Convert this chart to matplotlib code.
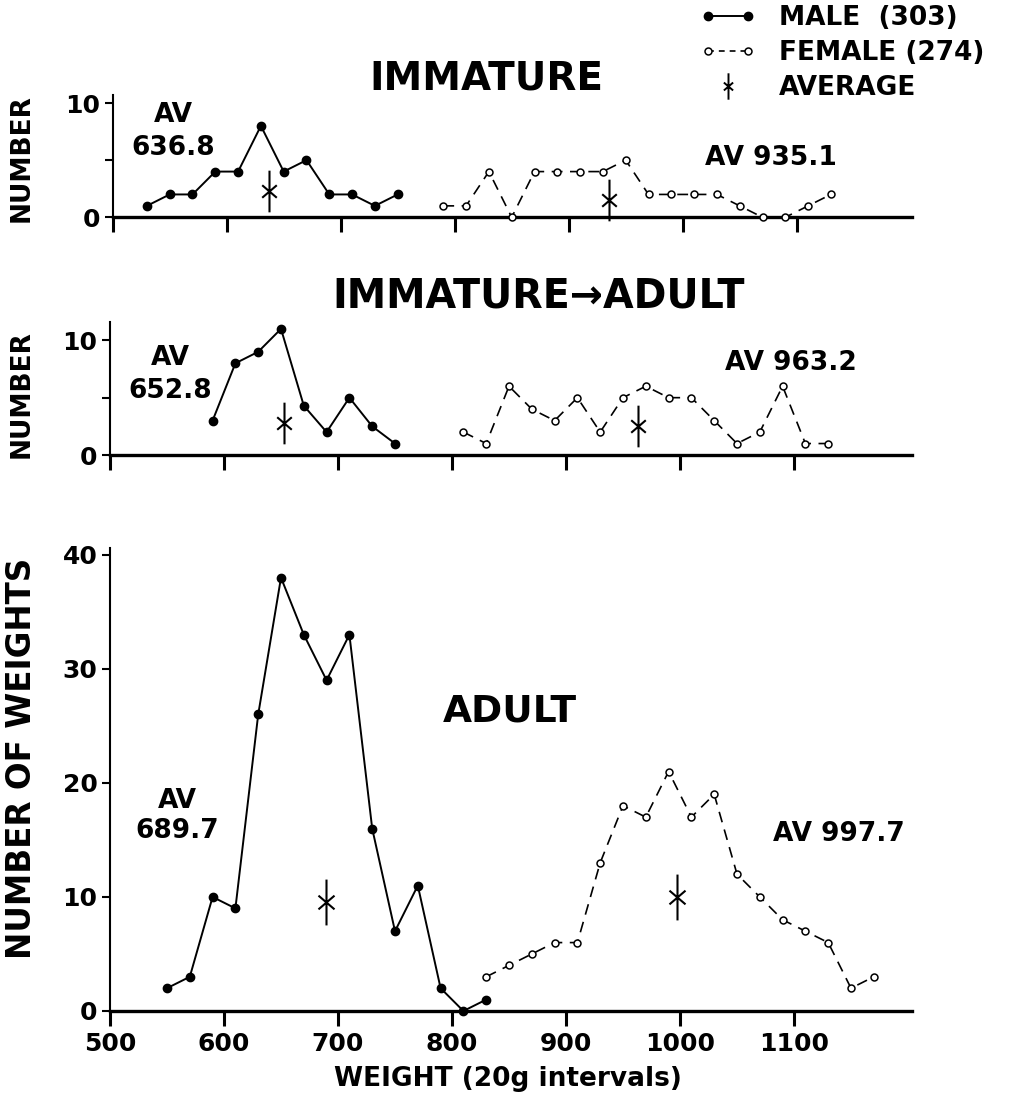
import numpy as np
import matplotlib
matplotlib.use("Agg")
import matplotlib.pyplot as plt
from matplotlib.path import Path
from matplotlib.lines import Line2D
from matplotlib.legend_handler import HandlerLine2D

plt.rcParams['font.family'] = ['DejaVu Sans']
plt.rcParams['font.weight'] = 'bold'

# ---------------- data ----------------
imm_m_w = [530, 550, 570, 590, 610, 630, 650, 670, 690, 710, 730, 750]
imm_m_n = [1, 2, 2, 4, 4, 8, 4, 5, 2, 2, 1, 2]
imm_f_w = [790, 810, 830, 850, 870, 890, 910, 930, 950, 970, 990, 1010,
           1030, 1050, 1070, 1090, 1110, 1130]
imm_f_n = [1, 1, 4, 0, 4, 4, 4, 4, 5, 2, 2, 2, 2, 1, 0, 0, 1, 2]

tr_m_w = [590, 610, 630, 650, 670, 690, 710, 730, 750]
tr_m_n = [3, 8, 9, 11, 4.3, 2, 5, 2.5, 1]
tr_f_w = [810, 830, 850, 870, 890, 910, 930, 950, 970, 990, 1010, 1030,
          1050, 1070, 1090, 1110, 1130]
tr_f_n = [2, 1, 6, 4, 3, 5, 2, 5, 6, 5, 5, 3, 1, 2, 6, 1, 1]

ad_m_w = [550, 570, 590, 610, 630, 650, 670, 690, 710, 730, 750, 770,
          790, 810, 830]
ad_m_n = [2, 3, 10, 9, 26, 38, 33, 29, 33, 16, 7, 11, 2, 0, 1]
ad_f_w = [830, 850, 870, 890, 910, 930, 950, 970, 990, 1010, 1030, 1050,
          1070, 1090, 1110, 1130, 1150, 1170]
ad_f_n = [3, 4, 5, 6, 6, 13, 18, 17, 21, 17, 19, 12, 10, 8, 7, 6, 2, 3]

imm_avg = [636.8, 935.1]
imm_avg_y = [2.3, 1.5]
tr_avg = [652.8, 963.2]
tr_avg_y = [2.75, 2.5]
ad_avg = [689.7, 997.7]
ad_avg_y = [9.6, 10.0]

x_ticks = [500, 600, 700, 800, 900, 1000, 1100]
legend_labels = ['MALE  (303)', 'FEMALE (274)', 'AVERAGE']

# ---------------- styling ----------------
W, H = 1011, 1108
fig = plt.figure(figsize=(W / 100, H / 100), dpi=100)

# average marker: vertical bar with an x through it
avg_path = Path([(0, -1), (0, 1), (-0.35, -0.3), (0.35, 0.3), (-0.35, 0.3), (0.35, -0.3)],
                [Path.MOVETO, Path.LINETO, Path.MOVETO, Path.LINETO, Path.MOVETO, Path.LINETO])

male_kw = dict(color='black', lw=1.4, marker='o', ms=6, mfc='black', mec='black',
               clip_on=False, zorder=4)
female_kw = dict(color='black', lw=1.2, ls=(0, (6.5, 4.5)), marker='o', ms=5, mfc='white',
                 mec='black', mew=1.1, clip_on=False, zorder=4)
avg_kw = dict(ls='none', marker=avg_path, ms=30, mfc='none', mec='black', mew=1.5,
              clip_on=False, zorder=4)

def px_axes(left, right, bottom, top):
    return fig.add_axes([left / W, 1 - bottom / H, (right - left) / W, (bottom - top) / H])

def style(ax, ylim, yticks, ylabels, xlabels):
    ax.set_xlim(500, 500 + (ax.get_position().width * W) / 1.14)
    ax.set_ylim(*ylim)
    for s in ['top', 'right']:
        ax.spines[s].set_visible(False)
    ax.spines['bottom'].set_linewidth(2.4)
    ax.spines['left'].set_linewidth(1.5)
    ax.set_xticks(x_ticks)
    if xlabels:
        ax.set_xticklabels([str(t) for t in x_ticks], fontsize=18, fontweight='bold')
    else:
        ax.set_xticklabels([])
    ax.set_yticks(yticks)
    ax.set_yticklabels(ylabels, fontsize=18, fontweight='bold')
    ax.tick_params(axis='x', direction='out', length=11, width=2.2, pad=4)
    ax.tick_params(axis='y', direction='out', length=6, width=1.5, pad=3)
    ax.patch.set_alpha(0)

# ---- top: immature ----
ax1 = px_axes(112.7, 912, 217.3, 95)
ax1.plot(imm_m_w, imm_m_n, **male_kw)
ax1.plot(imm_f_w, imm_f_n, **female_kw)
ax1.plot(imm_avg, imm_avg_y, **avg_kw)
style(ax1, (0, 10.7), [0, 5, 10], ['0', '', '10'], False)
ax1.text(553, 7.5, 'AV\n636.8', ha='center', va='center', fontsize=19, linespacing=1.35)
ax1.text(1077, 5.2, 'AV 935.1', ha='center', va='center', fontsize=19)

# ---- middle: immature -> adult ----
ax2 = px_axes(110, 912, 455, 322)
ax2.plot(tr_m_w, tr_m_n, **male_kw)
ax2.plot(tr_f_w, tr_f_n, **female_kw)
ax2.plot(tr_avg, tr_avg_y, **avg_kw)
style(ax2, (0, 11.6), [0, 5, 10], ['0', '', '10'], False)
ax2.text(553, 7.0, 'AV\n652.8', ha='center', va='center', fontsize=19, linespacing=1.35)
ax2.text(1097, 8.0, 'AV 963.2', ha='center', va='center', fontsize=19)

# ---- bottom: adult ----
ax3 = px_axes(110, 912, 1011, 548)
ax3.plot(ad_m_w, ad_m_n, **male_kw)
ax3.plot(ad_f_w, ad_f_n, **female_kw)
ad_kw = dict(avg_kw)
ad_kw['ms'] = 33
ax3.plot(ad_avg, ad_avg_y, **ad_kw)
style(ax3, (0, 40.6), [0, 10, 20, 30, 40], ['0', '10', '20', '30', '40'], True)
ax3.text(559, 17.1, 'AV\n689.7', ha='center', va='center', fontsize=19, linespacing=1.2)
ax3.text(1139, 15.5, 'AV 997.7', ha='center', va='center', fontsize=19)
ax3.text(851, 26.3, 'ADULT', ha='center', va='center', fontsize=27)

# ---- titles / axis labels ----
fig.text(486 / W, 1 - 78 / H, 'IMMATURE', ha='center', va='center', fontsize=28)
fig.text(539 / W, 1 - 296 / H, 'IMMATURE\u2192ADULT', ha='center', va='center', fontsize=28.5)
fig.text(22 / W, 1 - 158 / H, 'NUMBER', rotation=90, ha='center', va='center', fontsize=19)
fig.text(22 / W, 1 - 394 / H, 'NUMBER', rotation=90, ha='center', va='center', fontsize=19)
fig.text(22 / W, 1 - 758 / H, 'NUMBER OF WEIGHTS', rotation=90, ha='center', va='center', fontsize=23.5)
fig.text(508 / W, 1 - 1079 / H, 'WEIGHT (20g intervals)', ha='center', va='center', fontsize=19)

# ---- legend ----
h_m = Line2D([], [], color='black', lw=1.4, marker='o', ms=6, mfc='black')
h_f = Line2D([], [], color='black', lw=1.2, ls=(0, (3.5, 3)), marker='o', ms=5,
             mfc='white', mec='black', mew=1.1)
h_a = Line2D([], [], ls='none', marker=avg_path, ms=19, mfc='none', mec='black', mew=1.4)
fig.legend([h_m, h_f, h_a], legend_labels, loc='upper left',
           bbox_to_anchor=(700 / W, 1 - 5 / H), frameon=False, fontsize=19,
           handlelength=2.1, handletextpad=0.9, labelspacing=0.35,
           borderpad=0, borderaxespad=0, numpoints=2,
           handler_map={h_a: HandlerLine2D(numpoints=1)})

fig.savefig('out.png', dpi=100)
